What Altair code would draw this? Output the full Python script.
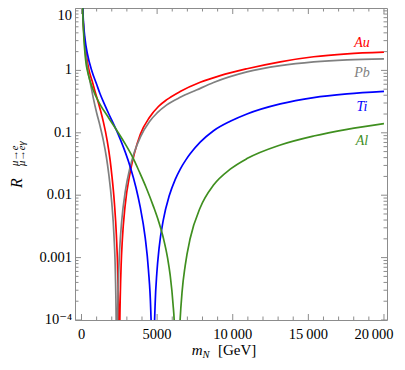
import altair as alt
import pandas as pd

# ---- data (m_N in GeV, ratio R) ----
au_m = [30, 80, 120, 232, 344, 500, 700, 900, 1225, 1450, 1700, 1890, 2000, 2175, 2305, 2400, 2455, 2490,
        2530, 2570, 2620, 2700, 2880, 3210, 3490, 3890, 4490, 5086, 5640, 6523, 7848, 9172, 10940, 13146, 15350, 17560, 20000]
au_r = [33, 9.3, 5.7, 2.6, 1.6, 1.0, 0.68, 0.457, 0.243, 0.148, 0.0743, 0.0369, 0.0216, 0.0075, 0.00231, 5.3e-4, 8.3e-5, 1e-7,
        7e-5, 2.8e-4, 7.5e-4, 1.94e-3, 6.7e-3, 0.0229, 0.046, 0.095, 0.176, 0.264, 0.34, 0.459, 0.646, 0.826, 1.063, 1.374, 1.654, 1.84, 1.96]

pb_m = [30, 80, 120, 232, 344, 420, 600, 780, 1000, 1225, 1450, 1650, 1800, 2000, 2150, 2240, 2300, 2330,
        2360, 2400, 2437, 2520, 2660, 2900, 3200, 3503, 3900, 4500, 5000, 5640, 6523, 7600, 8730, 10940, 13146, 15350, 17560, 20000]
pb_r = [31, 8.7, 5.3, 2.3, 1.35, 1.0, 0.6, 0.36, 0.21, 0.129, 0.0744, 0.0402, 0.022, 0.00766, 0.00219, 5.5e-4, 6.1e-5, 1e-7,
        3.2e-5, 1.77e-4, 4.1e-4, 1.3e-3, 3.9e-3, 0.0117, 0.0273, 0.0497, 0.0862, 0.152, 0.208, 0.28, 0.37, 0.484, 0.64, 0.947, 1.19, 1.37, 1.48, 1.53]

ti_m = [30, 80, 120, 232, 400, 675, 1000, 1225, 1500, 1800, 2100, 2330, 2600, 2900, 3250, 3600, 3874, 4205, 4425, 4580,
        4680, 4720, 4760, 4868, 4980, 5130, 5417, 5800, 6200, 6523, 6900, 7185, 7848, 8730, 9834, 10940, 13146, 15350, 17560, 20000]
ti_r = [36, 10.5, 6.5, 3.2, 1.8, 1.0, 0.598, 0.4225, 0.293, 0.202, 0.142, 0.107, 0.0748, 0.0485, 0.0271, 0.0133, 0.0066, 0.00215, 6.4e-4, 1.42e-4,
        1.4e-5, 1e-7, 1.3e-5, 1.77e-4, 5.6e-4, 1.42e-3, 4.11e-3, 9.77e-3, 0.01795, 0.026, 0.0368, 0.046, 0.0707, 0.108, 0.153, 0.2005, 0.2908, 0.367, 0.42, 0.46]

al_m = [30, 80, 120, 200, 300, 385, 600, 900, 1225, 1800, 2330, 2900, 3430, 3800, 4300, 4755, 5100, 5417, 5700, 5861,
        6050, 6146, 6320, 6360, 6450, 6520, 6650, 6854, 7185, 7848, 8730, 9834, 10940, 13146, 15350, 17560, 20000]
al_r = [30, 9.0, 5.0, 2.3, 1.3, 1.0, 0.641, 0.409, 0.286, 0.173, 0.1097, 0.0658, 0.0386, 0.0244, 0.0128, 0.00662, 0.0038, 0.00204, 9.6e-4, 5.27e-4,
        1.82e-4, 7.6e-5, 1e-7, 4e-6, 4.2e-5, 1e-4, 2.83e-4, 7.4e-4, 2.02e-3, 6.3e-3, 0.01452, 0.0261, 0.0386, 0.0638, 0.0888, 0.1137, 0.1405]

nuclei = ["Au", "Pb", "Ti", "Al"]
colors = ["#ff0000", "#808080", "#0000ff", "#3f8f1f"]

label_m = [18545, 18545, 18545, 18545]
label_r = [2.75, 0.91, 0.259, 0.074]

x_major = [0, 5000, 10000, 15000]
x_labels = ["0", "5000", "10\u2009000", "15\u2009000"]
x_last = [20000]
x_last_label = ["20\u2009000"]
x_minor = [1000, 2000, 3000, 4000, 6000, 7000, 8000, 9000, 11000, 12000, 13000, 14000,
           16000, 17000, 18000, 19000]
y_major = [1e-4, 1e-3, 1e-2, 1e-1, 1]
y_labels = ["10\u207b\u2074", "0.001", "0.01", "0.1", "1"]
y_top_label = "10"
y_minor = [k * 10.0 ** e for e in range(-4, 1) for k in range(2, 10)]

W, H = 312, 312
FRAME = "#8c8c8c"
SERIF = "Liberation Serif, Times New Roman, DejaVu Serif, serif"

frames = []
for name, ms, rs in [("Au", au_m, au_r), ("Pb", pb_m, pb_r), ("Ti", ti_m, ti_r), ("Al", al_m, al_r)]:
    frames.append(pd.DataFrame({"m": ms, "R": rs, "nucleus": name}))
lines_df = pd.concat(frames, ignore_index=True)

xscale = alt.Scale(domain=[-430, 20200], nice=False, zero=False)
yscale = alt.Scale(type="log", domain=[1e-4, 10], nice=False)
cscale = alt.Scale(domain=nuclei, range=colors)

lines = alt.Chart(lines_df).mark_line(clip=True, strokeWidth=1.7, interpolate="monotone").encode(
    x=alt.X("m:Q", scale=xscale, axis=None),
    y=alt.Y("R:Q", scale=yscale, axis=None),
    color=alt.Color("nucleus:N", scale=cscale, legend=None),
)

labels_df = pd.DataFrame({"m": label_m, "R": label_r, "nucleus": nuclei})
labels = alt.Chart(labels_df).mark_text(font=SERIF, fontSize=14, fontStyle="italic").encode(
    x=alt.X("m:Q", scale=xscale, axis=None),
    y=alt.Y("R:Q", scale=yscale, axis=None),
    text="nucleus:N",
    color=alt.Color("nucleus:N", scale=cscale, legend=None),
)

# tick labels (drawn through the scales)
xlab = alt.Chart(pd.DataFrame({"v": x_major, "t": x_labels})).mark_text(
    font=SERIF, fontSize=14.5, baseline="alphabetic", align="center", color="black").encode(
    x=alt.X("v:Q", scale=xscale, axis=None), y=alt.value(H + 18.5), text="t:N")
xlab_last = alt.Chart(pd.DataFrame({"v": x_last, "t": x_last_label})).mark_text(
    font=SERIF, fontSize=14.5, baseline="alphabetic", align="center", color="black", dx=-10).encode(
    x=alt.X("v:Q", scale=xscale, axis=None), y=alt.value(H + 18.5), text="t:N")
ylab = alt.Chart(pd.DataFrame({"v": y_major, "t": y_labels})).mark_text(
    font=SERIF, fontSize=14.5, baseline="middle", align="right", color="black").encode(
    y=alt.Y("v:Q", scale=yscale, axis=None), x=alt.value(-3), text="t:N")
ylab_top = alt.Chart(pd.DataFrame({"t": [y_top_label]})).mark_text(
    font=SERIF, fontSize=14.5, baseline="top", align="right", color="black").encode(
    x=alt.value(-3), y=alt.value(0.5), text="t:N")


def xticks(vals, length):
    df = pd.DataFrame({"v": vals})
    base = alt.Chart(df).mark_rule(color=FRAME, strokeWidth=1)
    bottom = base.encode(x=alt.X("v:Q", scale=xscale, axis=None), y=alt.value(H), y2=alt.value(H - length))
    top = base.encode(x=alt.X("v:Q", scale=xscale, axis=None), y=alt.value(0), y2=alt.value(length))
    return [bottom, top]


def yticks(vals, length):
    df = pd.DataFrame({"v": vals})
    base = alt.Chart(df).mark_rule(color=FRAME, strokeWidth=1)
    left = base.encode(y=alt.Y("v:Q", scale=yscale, axis=None), x=alt.value(0), x2=alt.value(length))
    right = base.encode(y=alt.Y("v:Q", scale=yscale, axis=None), x=alt.value(W), x2=alt.value(W - length))
    return [left, right]


ticks = (xticks(x_major + x_last, 6) + xticks(x_minor, 3.5) + yticks(y_major + [10], 6) + yticks(y_minor, 3.5))


def txt(s, x, y, size, style="normal", angle=0, align="left", baseline="alphabetic"):
    kw = dict(font=SERIF, fontSize=size, fontStyle=style, align=align, baseline=baseline, color="black")
    if angle:
        kw["angle"] = angle
    return alt.Chart(pd.DataFrame({"t": [s]})).mark_text(**kw).encode(
        x=alt.value(x), y=alt.value(y), text="t:N")


titles = [
    txt("m", 116.7, 347, 15, "italic"),
    txt("N", 127.5, 350, 10.5, "italic"),
    txt("[GeV]", 143, 347, 15),
    txt("R", -58, 180, 16, "italic", angle=270, align="left", baseline="middle"),
    txt("\u03bc\u2192e", -60.5, 158, 10.5, "italic", angle=270, align="left", baseline="middle"),
    txt("\u03bc\u2192e\u03b3", -53, 158, 10.5, "italic", angle=270, align="left", baseline="middle"),
]

chart = alt.layer(lines, *ticks, labels, xlab, xlab_last, ylab, ylab_top, *titles).properties(
    width=W, height=H,
    autosize=alt.AutoSizeParams(type="none"),
    padding={"left": 67, "top": 0, "right": 10, "bottom": 42},
).configure_view(stroke=FRAME, strokeWidth=1)

chart.save("out.html", embed_options={"renderer": "svg", "actions": False})
